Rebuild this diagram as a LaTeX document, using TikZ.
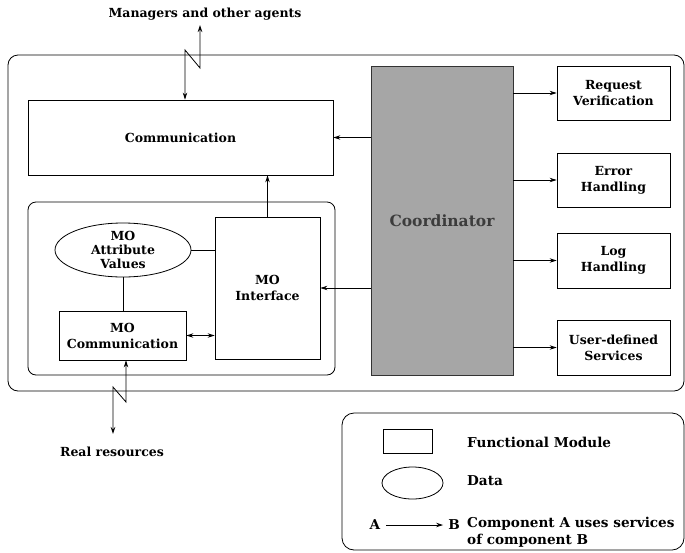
\documentclass[tikz,border=0pt]{standalone}
\usepackage{fontspec}
\setmainfont{DejaVu Serif}
\usetikzlibrary{arrows.meta,shapes.geometric}
\definecolor{coordfill}{HTML}{A6A6A6}
\definecolor{coordtext}{HTML}{3C3C3C}
\newcommand{\lblfont}{\fontsize{12.5}{16}\selectfont\bfseries}
\newcommand{\legfont}{\fontsize{13.6}{17}\selectfont\bfseries}
\begin{document}
\begin{tikzpicture}[x=1pt,y=-1pt,
  box/.style={draw, line width=0.8pt, fill=white, align=center, inner sep=0pt, font=\lblfont},
  ellbox/.style={draw, ellipse, line width=0.8pt, fill=white, align=center, inner sep=0pt, font=\lblfont},
  lbl/.style={font=\lblfont, inner sep=0pt, align=left},
  leg/.style={font=\legfont, inner sep=0pt, align=left},
  frame/.style={draw, line width=0.8pt, rounded corners=10pt},
  arr/.style={-{Stealth[length=7pt,width=4.5pt]}, line width=0.8pt},
  darr/.style={{Stealth[length=7pt,width=4.5pt]}-{Stealth[length=7pt,width=4.5pt]}, line width=0.8pt},
  plain/.style={line width=0.8pt}]
\useasboundingbox (0,0) rectangle (685,552);
% frames
\draw[frame] (8,55) rectangle (684,391);
\draw[frame, rounded corners=8pt] (28,202) rectangle (335,375);
% modules
\node[box, minimum width=305pt, minimum height=75pt] (comm) at (180.5,137.5) {Communication};
\node[box, draw=black!80, fill=coordfill, minimum width=142pt, minimum height=309pt,
      font=\fontsize{15.5}{18}\selectfont\bfseries, text=coordtext] (coord) at (442,220.5) {Coordinator};
\node[box, minimum width=113pt, minimum height=54pt] (rv) at (613.5,93) {Request\\Verification};
\node[box, minimum width=113pt, minimum height=54pt] (eh) at (613.5,180) {Error\\Handling};
\node[box, minimum width=113pt, minimum height=55pt] (lh) at (613.5,260.5) {Log\\Handling};
\node[box, minimum width=113pt, minimum height=55pt] (ud) at (613.5,347.5) {User-defined\\Services};
\node[box, minimum width=105pt, minimum height=142pt] (moi) at (267.5,288) {MO\\Interface};
\node[ellbox, minimum width=136pt, minimum height=54pt] (att) at (123,250) {MO\\[-2pt]Attribute\\[-2pt]Values};
\node[box, minimum width=127pt, minimum height=49pt] (moc) at (122.5,335.5) {MO\\Communication};
% connectors
\draw[arr] (coord.west |- comm.east) -- (comm.east);
\draw[arr] (coord.west |- moi.east) -- (moi.east);
\draw[arr] (coord.east |- rv.west) -- (rv.west);
\draw[arr] (coord.east |- eh.west) -- (eh.west);
\draw[arr] (coord.east |- lh.west) -- (lh.west);
\draw[arr] (coord.east |- ud.west) -- (ud.west);
\draw[arr] (moi.north) -- (moi.north |- comm.south);
\draw[plain] (att.east) -- (att.east -| moi.west);
\draw[plain] (att.south) -- (att.south |- moc.north);
\draw[darr] (moc.east) -- (moc.east -| moi.west);
% top link
\node[lbl] (mgr) at (205,14) {Managers and other agents};
\coordinate (t1) at (185,50);
\coordinate (t2) at (200,68);
\coordinate (t3) at (200,25);
\draw[darr] (comm.north -| t1) -- (t1) -- (t2) -- (t3);
% bottom link
\node[lbl] (real) at (112,452) {Real resources};
\coordinate (b1) at (126,402);
\coordinate (b2) at (113,387);
\coordinate (b3) at (113,434);
\draw[darr] (moc.south -| b1) -- (b1) -- (b2) -- (b3);
% legend
\draw[frame, rounded corners=12pt] (342,413) rectangle (684,550);
\node[box, minimum width=49pt, minimum height=24pt] (lrect) at (407.5,441) {};
\node[ellbox, minimum width=61pt, minimum height=32pt] (lell) at (412.5,483) {};
\node[leg] (la) at (375,525) {A};
\node[leg] (lb) at (454,525) {B};
\draw[arr] ([xshift=6pt]la.east) -- ([xshift=-5pt]lb.west);
\node[leg, anchor=west] (t1l) at (467,442) {Functional Module};
\node[leg, anchor=west] (t2l) at (467,481) {Data};
\node[leg, anchor=west] (t3l) at (467,532) {Component A uses services\\of component B};
\end{tikzpicture}
\end{document}
